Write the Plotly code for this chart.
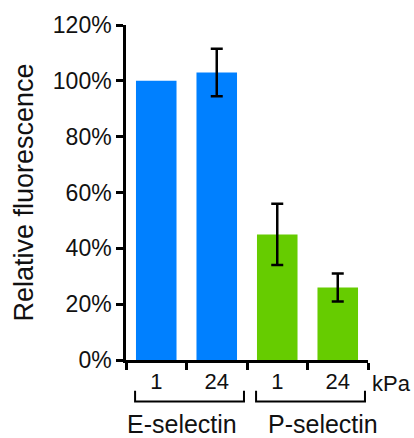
import plotly.graph_objects as go

# Data
categories = ["E1", "E24", "P1", "P24"]
tick_labels = ["1", "24", "1", "24"]
values = [100, 103, 45, 26]
errors = [None, 8.5, 11, 5]
colors = ["#0080ff", "#0080ff", "#66cc00", "#66cc00"]
groups = ["E-selectin", "P-selectin"]
group_members = [[0, 1], [2, 3]]
y_ticks = [0, 20, 40, 60, 80, 100, 120]

FONT = "Liberation Sans, Arial, sans-serif"

fig = go.Figure()
fig.add_trace(go.Bar(
    x=categories,
    y=values,
    marker=dict(color=colors, line=dict(width=0)),
    width=0.67,
))

# Error bars only where a spread was measured
err_idx = [i for i, e in enumerate(errors) if e is not None]
fig.add_trace(go.Scatter(
    x=[categories[i] for i in err_idx],
    y=[values[i] for i in err_idx],
    mode="markers",
    marker=dict(size=1, opacity=0),
    error_y=dict(
        type="data",
        array=[errors[i] for i in err_idx],
        visible=True,
        color="black",
        thickness=2.5,
        width=6,
    ),
    hoverinfo="skip",
))

fig.update_layout(
    width=414,
    height=438,
    margin=dict(l=126, r=46, t=23, b=78),
    plot_bgcolor="white",
    paper_bgcolor="white",
    showlegend=False,
    font=dict(family=FONT, size=23, color="#111111"),
)

fig.update_xaxes(
    type="category",
    categoryorder="array",
    categoryarray=categories,
    tickmode="array",
    tickvals=categories,
    ticktext=tick_labels,
    tickson="boundaries",
    ticks="outside",
    ticklen=7,
    tickwidth=2.5,
    tickcolor="black",
    showline=True,
    linecolor="black",
    linewidth=2.5,
    showgrid=False,
    range=[-0.5, len(categories) - 0.5],
    tickfont=dict(size=22),
)

fig.update_yaxes(
    range=[0, 120],
    tickmode="array",
    tickvals=y_ticks,
    ticktext=[f"{v}%" for v in y_ticks],
    ticks="outside",
    ticklen=7,
    tickwidth=2.5,
    tickcolor="black",
    showline=True,
    linecolor="black",
    linewidth=2.5,
    showgrid=False,
    zeroline=False,
    tickfont=dict(size=23),
    title=dict(text="Relative fluorescence", font=dict(size=27), standoff=12),
)

# Group brackets and labels under the category ticks
label_shift = [-0.12, 0.2]
for g, (name, members) in enumerate(zip(groups, group_members)):
    left = members[0] - 0.35
    right = members[-1] + 0.45
    fig.add_shape(
        type="path",
        xref="x", yref="paper",
        path=f"M {left},-0.092 L {left},-0.124 L {right},-0.124 L {right},-0.092",
        line=dict(color="black", width=2),
    )
    fig.add_annotation(
        x=(left + right) / 2 + label_shift[g], xref="x",
        y=-0.19, yref="paper",
        text=name, showarrow=False,
        font=dict(size=25),
        xanchor="center", yanchor="middle",
    )

fig.add_annotation(
    x=1, xref="paper", y=-0.07, yref="paper",
    text="kPa", showarrow=False, xanchor="left", yanchor="middle",
    xshift=2, font=dict(size=22),
)

fig.write_html("out.html")
